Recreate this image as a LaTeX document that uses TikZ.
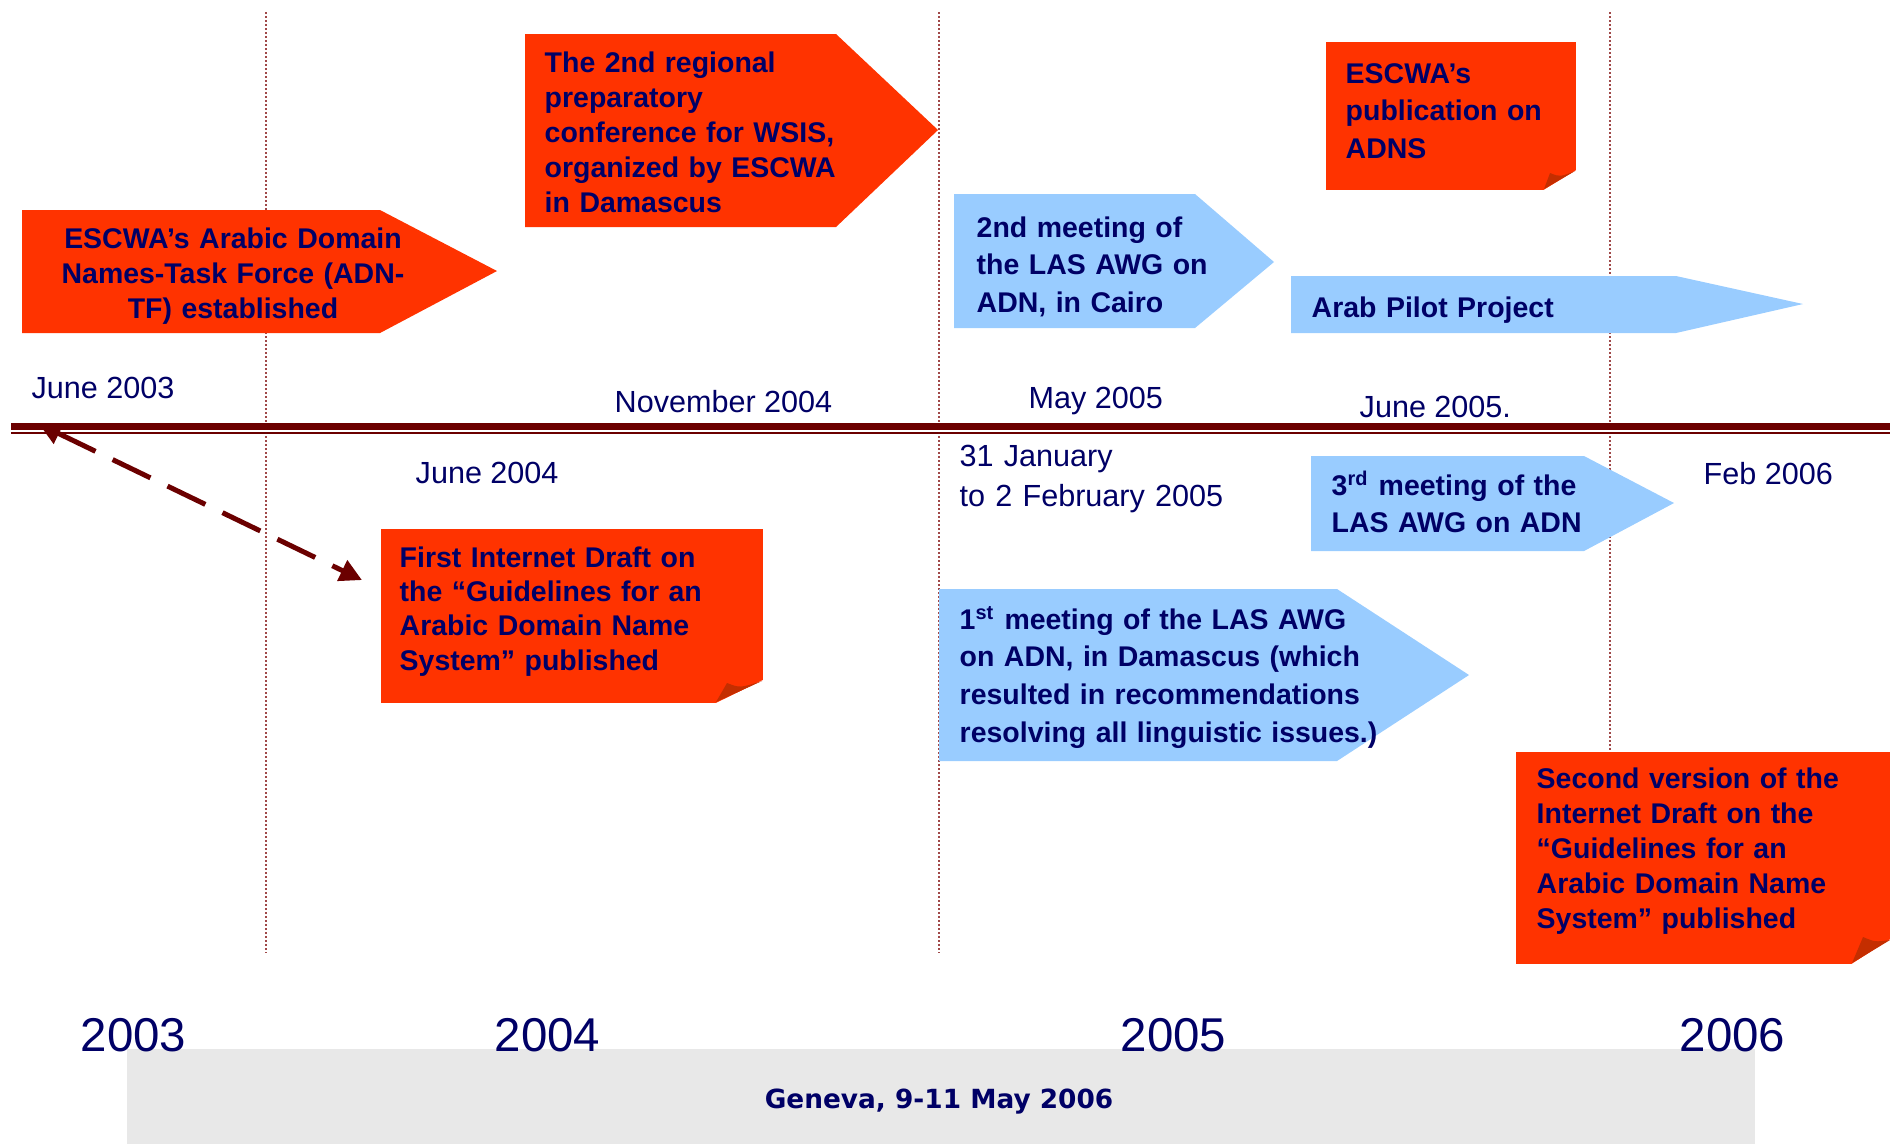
\documentclass[tikz,border=0pt]{standalone}
\usepackage{fontspec}
\setmainfont{Liberation Sans}
\newfontfamily\genevafont{DejaVu Sans}
\usetikzlibrary{arrows.meta}

\definecolor{escwaorange}{HTML}{FF3300}
\definecolor{lasblue}{HTML}{99CCFF}
\definecolor{foldred}{HTML}{C42E00}
\definecolor{navytext}{HTML}{000066}
\definecolor{axisred}{HTML}{6B0000}
\definecolor{dotred}{HTML}{A04848}
\definecolor{bandgray}{HTML}{E8E8E8}

\tikzset{
  boxtext/.style={anchor=base west, inner sep=0pt, text width=#1, align=left, text=navytext,
    font=\bfseries\fontsize{8.1}{10}\selectfont},
  loosetext/.style={font=\bfseries\fontsize{8.1}{10.7}\selectfont},
  datelabel/.style={anchor=base west, inner sep=0pt, align=left, text=navytext,
    font=\fontsize{8.7}{11.3}\selectfont},
  yearlabel/.style={anchor=base west, inner sep=0pt, text=navytext, font=\fontsize{13.5}{16}\selectfont},
  orangearrow/.style={fill=escwaorange},
  bluearrow/.style={fill=lasblue},
  notebox/.style={fill=escwaorange, inner sep=0pt, anchor=north west},
  fold/.style={fill=foldred},
  yeardiv/.style={draw=dotred, line width=0.2mm, dash pattern=on 0.2mm off 0.2mm},
}

\begin{document}
\begin{tikzpicture}[x=0.1mm, y=-0.1mm]
        \useasboundingbox (0,0) rectangle (1890,1144);

        % year dividers
        \foreach \xpos in {266, 939, 1610}
            \draw[yeardiv] (\xpos, 12) -- (\xpos, 952);

        % time axis
        \coordinate (axisstart) at (11, 426.5);
        \coordinate (axisend) at (1890, 426.5);
        \draw[axisred, line width=0.7mm] (axisstart) -- (axisend);
        \draw[axisred, line width=0.2mm] ([yshift=-0.65mm]axisstart) -- ([yshift=-0.65mm]axisend);
        \coordinate (june03) at (39, 424);

        % events above the axis
        \fill[orangearrow] (22,210) -- (380,210) -- (497,271) -- (380,333) -- (22,333) -- cycle;
        \node[boxtext=40mm, anchor=base, align=center] (adntf) at (233,248) {ESCWA's Arabic Domain\\Names-Task Force (ADN-\\TF) established};

        \fill[orangearrow] (525,34) -- (836,34) -- (938,130) -- (836,227) -- (525,227) -- cycle;
        \node[boxtext=38mm] (wsis) at (544,72) {The 2nd regional\\preparatory\\conference for WSIS,\\organized by ESCWA\\in Damascus};

        \node[notebox, minimum width=25mm, minimum height=14.8mm] (adns) at (1325,41) {};
        \fill[white] (1542,191) -- (1578,191) -- (1578,169) -- cycle;
        \fill[fold] (1544,189) -- (1550,173) .. controls (1560,177) .. (1575,171) -- cycle;
        \node[boxtext=24mm, loosetext] (adnstext) at (1345,83) {ESCWA's\\publication on\\ADNS};

        \fill[bluearrow] (954,194) -- (1195,194) -- (1274,262) -- (1195,328) -- (954,328) -- cycle;
        \node[boxtext=30mm, loosetext] (cairo) at (976,237) {2nd meeting of\\the LAS AWG on\\ADN, in Cairo};

        \fill[bluearrow] (1291,276) -- (1676,276) -- (1803,304) -- (1676,333) -- (1291,333) -- cycle;
        \node[boxtext=30mm] (pilot) at (1311,317) {Arab Pilot Project};

        % dates
        \node[datelabel] (jun03) at (31,398) {June 2003};
        \node[datelabel] (nov04) at (614,412) {November 2004};
        \node[datelabel] (may05) at (1028,408) {May 2005};
        \node[datelabel] (jun05) at (1359,417) {June 2005.};
        \node[datelabel] (jun04) at (415,483) {June 2004};
        \node[datelabel, text width=32mm, font=\fontsize{8.7}{11.4}\selectfont] (jan05) at (959,466) {31 January\\to 2 February 2005};
        \node[datelabel] (feb06) at (1703,484) {Feb 2006};

        % events below the axis
        \node[notebox, minimum width=38.2mm, minimum height=17.4mm] (draft1) at (380,528) {};
        \fill[white] (714,704) -- (765,704) -- (765,679) -- cycle;
        \fill[fold] (716,702) -- (727,683) .. controls (740,688) .. (762,681) -- cycle;
        \node[boxtext=36mm, font=\bfseries\fontsize{8.1}{9.8}\selectfont] (draft1text) at (399,567) {First Internet Draft on\\the “Guidelines for an\\Arabic Domain Name\\System” published};

        \fill[bluearrow] (1311,456) -- (1584,456) -- (1674,503) -- (1584,551) -- (1311,551) -- cycle;
        \node[boxtext=30mm, font=\bfseries\fontsize{8.1}{10.8}\selectfont] (third) at (1331,495) {3\textsuperscript{rd} meeting of the\\LAS AWG on ADN};

        \fill[bluearrow] (939,589) -- (1337,589) -- (1469,675) -- (1337,761) -- (939,761) -- cycle;
        \node[boxtext=44mm, font=\bfseries\fontsize{8.1}{10.8}\selectfont] (first) at (959,629) {1\textsuperscript{st} meeting of the LAS AWG\\on ADN, in Damascus (which\\resulted in recommendations\\resolving all linguistic issues.)};

        \node[notebox, minimum width=37.5mm, minimum height=21.2mm] (draft2) at (1515,751) {};
        \fill[white] (1850,965) -- (1892,965) -- (1892,938) -- cycle;
        \fill[fold] (1852,963) -- (1863,937) .. controls (1875,942) .. (1890,940) -- cycle;
        \node[boxtext=35mm] (draft2text) at (1536,788) {Second version of the\\Internet Draft on the\\“Guidelines for an\\Arabic Domain Name\\System” published};

        \draw[axisred, line width=0.5mm, dash pattern=on 4.2mm off 1.9mm, shorten >=2mm,
            {Triangle[length=2.2mm, width=2.2mm]}-{Triangle[length=2.2mm, width=2.2mm]}] (june03) -- (draft1.172);

        % footer
        \fill[bandgray] (127,1049) rectangle (1755,1144);
        \node[inner sep=0pt, anchor=base, text=navytext, font=\genevafont\bfseries\fontsize{7.5}{9}\selectfont] (geneva) at (939,1108) {Geneva, 9-11 May 2006};
        \node[yearlabel] (y2003) at (80,1051) {2003};
        \node[yearlabel] (y2004) at (494,1051) {2004};
        \node[yearlabel] (y2005) at (1120,1051) {2005};
        \node[yearlabel] (y2006) at (1679,1051) {2006};
    \end{tikzpicture}
\end{document}
